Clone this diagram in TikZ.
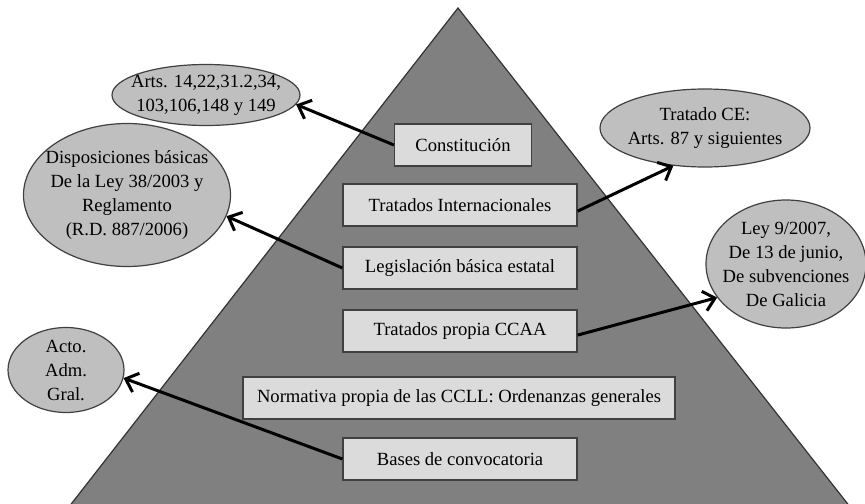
\documentclass[tikz,border=0pt]{standalone}
\usepackage{fontspec}
\setmainfont{Liberation Serif}
\usetikzlibrary{shapes.geometric,arrows.meta}
\begin{document}
\begin{tikzpicture}[x=0.5pt,y=-0.5pt,
  font=\fontsize{9.3}{12}\selectfont,
  nivel/.style={draw=black!75,fill=gray!28,line width=0.6pt,minimum height=21pt,inner sep=2pt},
  nota/.style={ellipse,draw=black!75,fill=gray!50,line width=0.6pt,align=center,inner sep=-20pt},
  flecha/.style={-{Straight Barb[length=5.5pt,width=10pt]},line width=1.5pt}]
  \useasboundingbox (0,0) rectangle (865,503);
  \filldraw[fill=gray,draw=black!80,line width=0.6pt] (66.5,510) -- (458,8) -- (852.5,510) -- cycle;

  \node[nivel,minimum width=68.5pt] (cons) at (463,145) {Constitución};
  \node[nivel,minimum width=117pt] (tint) at (460,205) {Tratados Internacionales};
  \node[nivel,minimum width=117pt] (legis) at (460,268) {Legislación básica estatal};
  \node[nivel,minimum width=117pt] (ccaa) at (460,331) {Tratados propia CCAA};
  \node[nivel,minimum width=216pt] (ccll) at (459,398) {Normativa propia de las CCLL: Ordenanzas generales};
  \node[nivel,minimum width=117pt] (bases) at (460,459) {Bases de convocatoria};

  \node[nota,minimum width=94pt,minimum height=30.5pt] (arts) at (206,95) {Arts. 14,22,31.2,34,\\103,106,148 y 149};
  \node[nota,minimum width=103.5pt,minimum height=71.5pt] (disp) at (127,195) {Disposiciones básicas\\De la Ley 38/2003 y\\Reglamento\\(R.D. 887/2006)};
  \node[nota,minimum width=105pt,minimum height=39pt] (tce) at (705,128) {Tratado CE:\\Arts. 87 y siguientes};
  \node[nota,minimum width=80pt,minimum height=64pt] (ley) at (786,264) {Ley 9/2007,\\De 13 de junio,\\De subvenciones\\De Galicia};
  \node[nota,minimum width=58pt,minimum height=42.5pt] (acto) at (66,370) {Acto.\\Adm.\\Gral.};

  \draw[flecha] (cons.west) -- (arts.-6);
  \draw[flecha] (tint.-3.5) -- (tce.-130);
  \draw[flecha] (legis.west) -- (disp.-12);
  \draw[flecha] (ccaa.-2) -- (ley.-154);
  \draw[flecha] (bases.west) -- (acto.-8);
\end{tikzpicture}
\end{document}
